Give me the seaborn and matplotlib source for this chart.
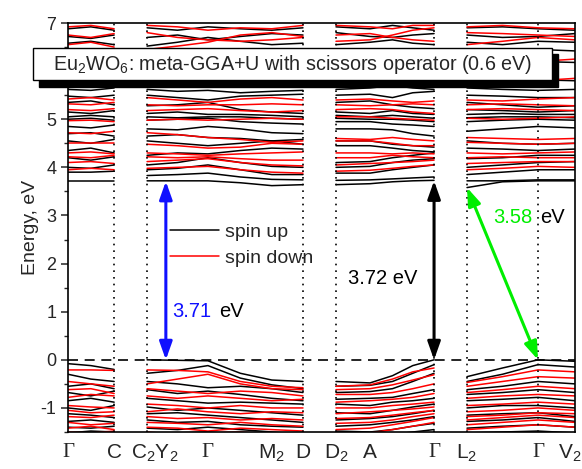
import pandas as pd
import seaborn as sns
import matplotlib.pyplot as plt
import matplotlib.transforms as mtransforms
from matplotlib.lines import Line2D
from matplotlib.patches import Rectangle

# high-symmetry points along the k-path (fraction of path length)
tick_pos = [0.0, 0.091, 0.156, 0.276, 0.402, 0.4635, 0.5286, 0.5957, 0.722, 0.787, 0.927, 1.0]
tick_labels = ["Γ", "C", "C$_2$Y$_2$", "Γ", "M$_2$", "D", "D$_2$", "A", "Γ", "L$_2$", "Γ", "V$_2$"]
dotted_k = [0.091, 0.156, 0.4635, 0.5286, 0.722, 0.787, 0.927]
# the "6" sits behind the title box in the original
y_ticks = [-1, 0, 1, 2, 3, 4, 5, 6, 7]
y_tick_labels = ["-1", "0", "1", "2", "3", "4", "5", "", "7"]

# k-grid of the four connected pieces of the path
seg_k = [
    [0.0, 0.045, 0.091],
    [0.156, 0.216, 0.276, 0.34, 0.402, 0.4635],
    [0.5286, 0.5957, 0.64, 0.68, 0.722],
    [0.787, 0.857, 0.927, 1.0],
]

# band energies (eV) on seg_k
up_bands = [
    # valence
    [-0.08, -0.12, -0.20, 0.00, -0.01, -0.02, -0.28, -0.42, -0.45, -0.45, -0.48, -0.33, -0.12, 0.00, -0.35, -0.17, 0.00, -0.03],
    [-0.30, -0.40, -0.45, -0.28, -0.22, -0.12, -0.38, -0.52, -0.60, -0.55, -0.53, -0.45, -0.28, -0.10, -0.45, -0.30, -0.10, -0.15],
    [-0.55, -0.50, -0.60, -0.45, -0.50, -0.58, -0.55, -0.60, -0.68, -0.68, -0.66, -0.60, -0.45, -0.28, -0.62, -0.55, -0.45, -0.50],
    [-0.68, -0.75, -0.65, -0.62, -0.70, -0.65, -0.72, -0.80, -0.85, -0.82, -0.80, -0.78, -0.70, -0.62, -0.72, -0.68, -0.62, -0.68],
    [-0.85, -0.80, -0.88, -0.80, -0.85, -0.90, -0.88, -0.90, -0.92, -0.92, -0.95, -0.88, -0.85, -0.80, -0.85, -0.82, -0.78, -0.85],
    [-1.00, -1.05, -0.95, -0.98, -1.05, -1.00, -1.05, -1.10, -1.15, -1.10, -1.12, -1.05, -0.98, -0.92, -1.00, -0.95, -0.95, -1.00],
    [-1.12, -1.15, -1.20, -1.12, -1.10, -1.15, -1.20, -1.25, -1.30, -1.25, -1.22, -1.18, -1.12, -1.05, -1.15, -1.12, -1.10, -1.18],
    [-1.28, -1.25, -1.30, -1.25, -1.30, -1.28, -1.35, -1.38, -1.40, -1.38, -1.35, -1.30, -1.25, -1.18, -1.28, -1.25, -1.20, -1.28],
    [-1.40, -1.42, -1.38, -1.42, -1.45, -1.40, -1.45, -1.50, -1.55, -1.48, -1.50, -1.45, -1.38, -1.32, -1.42, -1.38, -1.35, -1.40],
    [-1.52, -1.48, -1.50, -1.55, -1.52, -1.50, -1.55, -1.60, -1.60, -1.60, -1.58, -1.55, -1.50, -1.45, -1.52, -1.50, -1.48, -1.52],
    # conduction
    [3.72, 3.72, 3.72, 3.72, 3.72, 3.72, 3.68, 3.62, 3.64, 3.64, 3.66, 3.70, 3.72, 3.73, 3.58, 3.70, 3.72, 3.72],
    [3.90, 3.90, 3.92, 3.83, 3.85, 3.88, 3.80, 3.75, 3.74, 3.73, 3.74, 3.76, 3.78, 3.80, 3.72, 3.72, 3.74, 3.74],
    [4.00, 3.98, 4.05, 3.95, 3.98, 4.05, 3.95, 3.85, 3.85, 3.88, 3.88, 3.95, 4.00, 4.05, 3.85, 3.90, 3.95, 3.95],
    [4.20, 4.15, 4.22, 4.05, 4.10, 4.20, 4.10, 4.02, 4.00, 4.00, 4.02, 4.10, 4.15, 4.18, 4.00, 4.05, 4.10, 4.12],
    [4.35, 4.40, 4.30, 4.25, 4.30, 4.28, 4.35, 4.40, 4.38, 4.10, 4.12, 4.20, 4.25, 4.30, 4.18, 4.20, 4.25, 4.25],
    [4.55, 4.50, 4.58, 4.55, 4.50, 4.45, 4.50, 4.55, 4.48, 4.45, 4.45, 4.40, 4.35, 4.32, 4.40, 4.38, 4.35, 4.38],
    [4.70, 4.72, 4.65, 4.65, 4.68, 4.62, 4.60, 4.55, 4.58, 4.55, 4.55, 4.48, 4.45, 4.42, 4.55, 4.50, 4.48, 4.50],
    [4.85, 4.82, 4.88, 4.80, 4.78, 4.85, 4.80, 4.72, 4.70, 4.80, 4.80, 4.78, 4.70, 4.65, 4.75, 4.80, 4.85, 4.82],
    [5.00, 5.02, 4.98, 4.98, 5.00, 5.02, 4.95, 4.92, 4.90, 4.95, 4.95, 4.90, 4.88, 4.85, 4.95, 4.98, 5.00, 4.98],
    [5.05, 5.08, 5.05, 5.05, 5.03, 5.05, 5.05, 5.02, 5.00, 5.02, 5.00, 5.00, 4.98, 4.95, 5.03, 5.05, 5.05, 5.03],
    [5.15, 5.12, 5.18, 5.12, 5.15, 5.10, 5.10, 5.08, 5.05, 5.08, 5.05, 5.08, 5.05, 5.02, 5.10, 5.12, 5.10, 5.10],
    [5.35, 5.38, 5.30, 5.28, 5.30, 5.35, 5.20, 5.15, 5.12, 5.15, 5.12, 5.18, 5.12, 5.10, 5.20, 5.18, 5.15, 5.18],
    [5.48, 5.45, 5.50, 5.50, 5.45, 5.40, 5.48, 5.50, 5.52, 5.35, 5.38, 5.30, 5.25, 5.22, 5.35, 5.30, 5.25, 5.28],
    [5.62, 5.60, 5.65, 5.62, 5.58, 5.60, 5.55, 5.58, 5.60, 5.50, 5.52, 5.45, 5.55, 5.58, 5.50, 5.48, 5.45, 5.45],
    [5.75, 5.80, 5.72, 5.75, 5.78, 5.72, 5.80, 5.78, 5.75, 5.62, 5.65, 5.70, 5.65, 5.62, 5.65, 5.62, 5.60, 5.62],
    [5.95, 5.92, 5.98, 5.95, 5.90, 5.98, 5.92, 5.95, 5.98, 5.85, 5.88, 5.80, 5.85, 5.90, 5.85, 5.88, 5.82, 5.80],
    [6.15, 6.20, 6.10, 6.20, 6.15, 6.10, 6.20, 6.25, 6.20, 6.10, 6.15, 6.20, 6.12, 6.10, 6.10, 6.15, 6.20, 6.18],
    [6.40, 6.35, 6.45, 6.45, 6.40, 6.35, 6.30, 6.40, 6.42, 6.40, 6.35, 6.30, 6.40, 6.45, 6.35, 6.40, 6.45, 6.42],
    [6.58, 6.62, 6.55, 6.52, 6.60, 6.70, 6.62, 6.55, 6.58, 6.55, 6.60, 6.65, 6.58, 6.55, 6.60, 6.55, 6.62, 6.60],
    [6.72, 6.68, 6.75, 6.70, 6.75, 6.65, 6.72, 6.78, 6.75, 6.80, 6.72, 6.70, 6.75, 6.78, 6.75, 6.70, 6.72, 6.78],
    [6.88, 6.92, 6.85, 6.90, 6.85, 6.92, 6.88, 6.85, 6.90, 6.92, 6.88, 6.95, 6.90, 6.85, 6.90, 6.92, 6.88, 6.85],
]

down_bands = [
    # valence
    [-0.21, -0.21, -0.22, -0.21, -0.22, -0.25, -0.45, -0.55, -0.58, -0.55, -0.52, -0.40, -0.25, -0.17, -0.47, -0.35, -0.21, -0.25],
    [-0.45, -0.50, -0.55, -0.50, -0.40, -0.30, -0.50, -0.60, -0.62, -0.62, -0.60, -0.52, -0.42, -0.31, -0.55, -0.45, -0.35, -0.38],
    [-0.62, -0.60, -0.70, -0.60, -0.65, -0.70, -0.65, -0.68, -0.75, -0.72, -0.72, -0.68, -0.60, -0.50, -0.68, -0.62, -0.55, -0.60],
    [-0.78, -0.72, -0.75, -0.75, -0.80, -0.75, -0.80, -0.85, -0.82, -0.88, -0.85, -0.82, -0.78, -0.70, -0.80, -0.75, -0.72, -0.75],
    [-0.95, -0.98, -1.00, -0.92, -0.95, -1.00, -0.95, -1.00, -1.00, -1.00, -1.00, -0.95, -0.92, -0.88, -0.95, -0.92, -0.88, -0.92],
    [-1.05, -1.10, -1.08, -1.08, -1.02, -1.08, -1.12, -1.08, -1.10, -1.12, -1.08, -1.05, -1.02, -0.98, -1.08, -1.05, -1.00, -1.05],
    [-1.18, -1.20, -1.15, -1.18, -1.22, -1.20, -1.25, -1.22, -1.25, -1.22, -1.20, -1.15, -1.10, -1.05, -1.18, -1.15, -1.10, -1.12],
    [-1.30, -1.35, -1.32, -1.30, -1.32, -1.35, -1.30, -1.35, -1.38, -1.32, -1.30, -1.25, -1.18, -1.12, -1.25, -1.20, -1.15, -1.20],
    [-1.42, -1.38, -1.45, -1.40, -1.42, -1.48, -1.42, -1.45, -1.48, -1.45, -1.42, -1.35, -1.28, -1.20, -1.35, -1.30, -1.25, -1.30],
    [-1.50, -1.52, -1.48, -1.50, -1.55, -1.52, -1.50, -1.55, -1.55, -1.55, -1.52, -1.45, -1.38, -1.30, -1.45, -1.40, -1.35, -1.40],
    # conduction
    [3.95, 3.98, 3.95, 3.98, 4.00, 4.02, 3.95, 3.90, 3.88, 3.92, 3.94, 3.98, 4.02, 4.05, 3.95, 3.98, 4.02, 4.00],
    [4.10, 4.12, 4.08, 4.12, 4.15, 4.18, 4.10, 4.05, 4.03, 4.05, 4.08, 4.10, 4.12, 4.15, 4.08, 4.10, 4.12, 4.12],
    [4.22, 4.20, 4.25, 4.22, 4.20, 4.22, 4.18, 4.15, 4.15, 4.20, 4.20, 4.25, 4.22, 4.20, 4.20, 4.22, 4.20, 4.20],
    [4.30, 4.32, 4.28, 4.30, 4.28, 4.25, 4.28, 4.30, 4.32, 4.30, 4.30, 4.28, 4.30, 4.28, 4.30, 4.28, 4.30, 4.32],
    [4.50, 4.50, 4.50, 4.48, 4.45, 4.40, 4.42, 4.50, 4.48, 4.55, 4.55, 4.50, 4.45, 4.45, 4.52, 4.50, 4.48, 4.50],
    [4.72, 4.70, 4.75, 4.72, 4.68, 4.62, 4.58, 4.52, 4.55, 4.60, 4.58, 4.62, 4.58, 4.55, 4.62, 4.60, 4.58, 4.60],
    [4.97, 4.98, 4.95, 4.98, 5.00, 4.98, 5.00, 5.02, 5.00, 5.05, 5.05, 5.02, 5.00, 4.98, 5.02, 5.00, 5.02, 5.05],
    [5.20, 5.18, 5.22, 5.18, 5.20, 5.22, 5.18, 5.15, 5.18, 5.20, 5.22, 5.20, 5.15, 5.12, 5.20, 5.22, 5.20, 5.18],
    [5.32, 5.30, 5.35, 5.30, 5.28, 5.30, 5.30, 5.32, 5.30, 5.30, 5.28, 5.30, 5.32, 5.30, 5.30, 5.32, 5.30, 5.28],
    [5.42, 5.45, 5.40, 5.45, 5.40, 5.35, 5.42, 5.45, 5.40, 5.40, 5.42, 5.38, 5.35, 5.38, 5.40, 5.38, 5.42, 5.45],
    [5.85, 5.80, 5.88, 5.82, 5.85, 5.80, 5.85, 5.88, 5.82, 5.80, 5.85, 5.82, 5.88, 5.85, 5.85, 5.82, 5.80, 5.85],
    [6.10, 6.15, 6.05, 6.08, 6.12, 6.18, 6.10, 6.05, 6.08, 6.15, 6.12, 6.08, 6.10, 6.15, 6.05, 6.10, 6.20, 6.25],
    [6.55, 6.60, 6.50, 6.45, 6.52, 6.60, 6.75, 6.80, 6.72, 6.62, 6.65, 6.75, 6.85, 6.90, 6.55, 6.62, 6.70, 6.65],
    [6.75, 6.70, 6.78, 6.80, 6.70, 6.65, 6.62, 6.65, 6.70, 6.75, 6.78, 6.70, 6.65, 6.62, 6.80, 6.78, 6.75, 6.72],
    [6.92, 6.95, 6.88, 6.95, 6.92, 6.85, 6.90, 6.88, 6.95, 6.95, 6.92, 6.88, 6.95, 6.95, 6.92, 6.95, 6.90, 6.88],
]

gap_direct_1 = 3.71   # at C2Y2
gap_direct_2 = 3.72   # at Gamma
gap_indirect = 3.58   # L2 -> Gamma


def build_frame():
    rows = []
    for spin, bands in [("spin up", up_bands), ("spin down", down_bands)]:
        for b, energies in enumerate(bands):
            start = 0
            for s, ks in enumerate(seg_k):
                for k, e in zip(ks, energies[start:start + len(ks)]):
                    rows.append((spin, f"{spin}-{b}-{s}", k, e))
                start += len(ks)
    return pd.DataFrame(rows, columns=["spin", "unit", "k", "E"])


sns.set_style("ticks")
plt.rcParams["font.family"] = ["Liberation Sans", "DejaVu Sans"]
plt.rcParams["mathtext.fontset"] = "custom"
plt.rcParams["mathtext.rm"] = "Liberation Sans"
plt.rcParams["mathtext.it"] = "Liberation Sans:italic"
plt.rcParams["axes.unicode_minus"] = False

fig = plt.figure(figsize=(5.82, 4.69), dpi=100)
ax = fig.add_axes([68 / 582, 37 / 469, 507 / 582, 409 / 469])

df = build_frame()
sns.lineplot(
    data=df, x="k", y="E", hue="spin", units="unit", estimator=None,
    palette={"spin up": "black", "spin down": "#ff0000"},
    linewidth=1.1, sort=False, legend=False, ax=ax,
)

for k in dotted_k:
    ax.axvline(k, color="black", ls=(0, (1, 3)), lw=1.2, zorder=3)
ax.axhline(0, color="black", ls=(0, (6, 4)), lw=1.2, zorder=4)

ax.set_xlim(0, 1)
ax.set_ylim(-1.5, 7)
ax.set_xticks(tick_pos)
ax.set_xticklabels(tick_labels, fontsize=15)
for lab in ax.get_xticklabels():
    if lab.get_text() == "Γ":
        lab.set_fontfamily("Liberation Serif")
ax.tick_params(axis="x", length=0, pad=8)
ax.set_yticks(y_ticks)
ax.set_yticklabels(y_tick_labels)
ax.set_yticks([-1.5 + 0.5 * i for i in range(18)], minor=True)
ax.tick_params(axis="y", which="major", direction="out", length=5, width=1.1, labelsize=13)
ax.tick_params(axis="y", which="minor", direction="out", length=3, width=1.0)
ax.set_xlabel("")
ax.set_ylabel("Energy, eV", fontsize=14, labelpad=1)
for sp in ax.spines.values():
    sp.set_linewidth(1.2)
    sp.set_color("black")

# nudge a few tick labels as in the original
labs = ax.get_xticklabels()
for idx, dx in [(2, 8), (11, -5)]:
    shift = mtransforms.ScaledTranslation(dx / 100, 0, fig.dpi_scale_trans)
    labs[idx].set_transform(labs[idx].get_transform() + shift)

# gap arrows
arw = dict(arrowstyle="<|-|>,head_length=0.9,head_width=0.32", lw=2.2,
           shrinkA=0, shrinkB=0, mutation_scale=12)
ax.annotate("", xy=(0.193, 0), xytext=(0.193, gap_direct_1),
            arrowprops=dict(arw, color="#1010ff"), zorder=6)
ax.annotate("", xy=(0.722, 0), xytext=(0.722, gap_direct_2),
            arrowprops=dict(arw, color="black"), zorder=6)
ax.annotate("", xy=(0.927, 0), xytext=(0.787, gap_indirect),
            arrowprops=dict(arw, color="#00ee00"), zorder=6)

ax.text(0.205, 1.0, f"{gap_direct_1:.2f}", color="#1010ff", fontsize=14.5, va="center")
ax.text(0.298, 1.0, "eV", color="black", fontsize=14.5, va="center")
ax.text(0.552, 1.7, f"{gap_direct_2:.2f} eV", color="black", fontsize=14.5, va="center")
ax.text(0.838, 2.95, f"{gap_indirect:.2f}", color="#00ee00", fontsize=14.5, va="center")
ax.text(0.931, 2.95, "eV", color="black", fontsize=14.5, va="center")

handles = [Line2D([], [], color="black", lw=1.1), Line2D([], [], color="#ff0000", lw=1.1)]
ax.legend(handles, ["spin up", "spin down"], loc="center left", frameon=False,
          bbox_to_anchor=(170 / 582, 224 / 469), bbox_transform=fig.transFigure,
          fontsize=14, handlelength=2.5, handletextpad=0.35, labelspacing=0.45,
          borderpad=0, borderaxespad=0)

# title box with drop shadow
fig.add_artist(Rectangle((39 / 582, 382 / 469), 519 / 582, 33 / 469,
                         transform=fig.transFigure, facecolor="black", edgecolor="black", zorder=5))
fig.add_artist(Rectangle((33 / 582, 389 / 469), 519 / 582, 32 / 469,
                         transform=fig.transFigure, facecolor="white", edgecolor="black", lw=1.0, zorder=6))
fig.text(292.5 / 582, 405 / 469, "Eu$_2$WO$_6$: meta-GGA+U with scissors operator (0.6 eV)",
         ha="center", va="center", fontsize=14.2, zorder=7)

fig.savefig("out.png", dpi=100)
